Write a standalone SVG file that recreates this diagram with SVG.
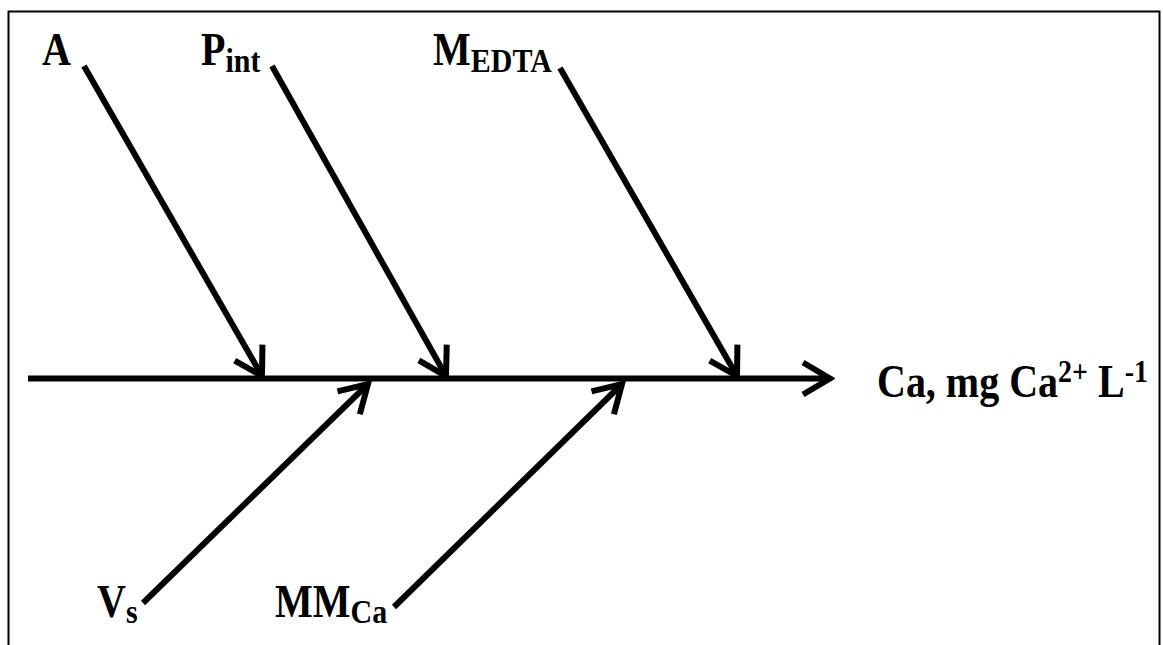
<svg xmlns="http://www.w3.org/2000/svg" width="1163" height="645" viewBox="0 0 1163 645">
<style>
.lbl{font-family:"Liberation Serif","Times New Roman",serif;font-weight:bold;font-size:40px;fill:#000}
.sub{font-size:30px}
.sup{font-size:28px}
.ln{stroke:#000;stroke-width:6;fill:none}
</style>
<defs>
<marker id="ah" markerUnits="userSpaceOnUse" markerWidth="40" markerHeight="40" viewBox="-35 -20 40 40" refX="0" refY="0" orient="auto">
<path d="M-27,-16 L0,0 L-27,16" fill="none" stroke="#000" stroke-width="6" stroke-linejoin="miter"/>
</marker>
</defs>
<rect x="8.5" y="11.5" width="1151" height="700" fill="#fff" stroke="#000" stroke-width="2"/>
<g id="connectors">
<line class="ln" x1="28" y1="378.5" x2="830" y2="378.5" marker-end="url(#ah)"/>
<line class="ln" x1="84" y1="66" x2="262" y2="376" marker-end="url(#ah)"/>
<line class="ln" x1="272" y1="66" x2="446" y2="376" marker-end="url(#ah)"/>
<line class="ln" x1="560" y1="68" x2="737" y2="376" marker-end="url(#ah)"/>
<line class="ln" x1="143" y1="603" x2="368" y2="384" marker-end="url(#ah)"/>
<line class="ln" x1="394" y1="607" x2="622" y2="384" marker-end="url(#ah)"/>
</g>
<g id="node-A"><text class="lbl" transform="translate(42,65) scale(1,1.15)">A</text></g>
<g id="node-Pint"><text class="lbl" transform="translate(201,65) scale(1,1.15)">P<tspan class="sub" dy="6">int</tspan></text></g>
<g id="node-MEDTA"><text class="lbl" transform="translate(433,65) scale(1,1.15)">M<tspan class="sub" dy="6">EDTA</tspan></text></g>
<g id="node-Ca"><text class="lbl" transform="translate(877,397) scale(1,1.15)">Ca, mg Ca<tspan class="sup" dy="-13">2+</tspan><tspan dy="13"> L</tspan><tspan class="sup" dy="-13">-1</tspan></text></g>
<g id="node-Vs"><text class="lbl" transform="translate(97,617) scale(1,1.15)">V<tspan class="sub" dy="5">s</tspan></text></g>
<g id="node-MMCa"><text class="lbl" transform="translate(275,617) scale(1,1.15)">MM<tspan class="sub" dy="5">Ca</tspan></text></g>
</svg>
